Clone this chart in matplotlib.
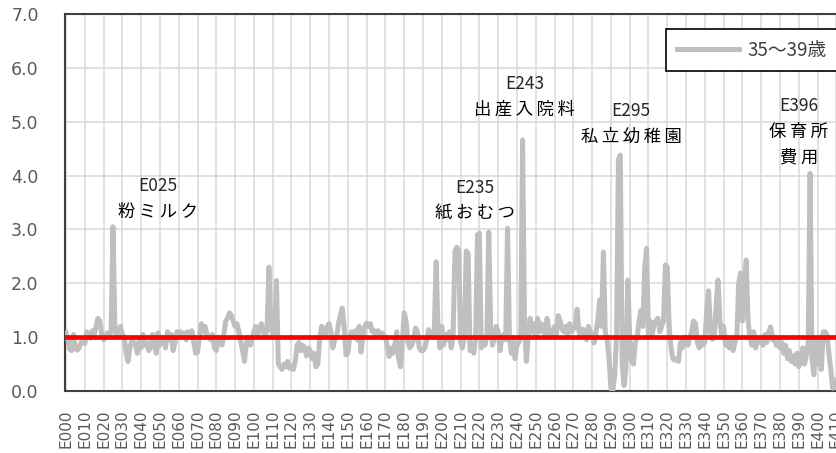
import matplotlib
matplotlib.use("Agg")
import matplotlib.pyplot as plt

plt.rcParams['font.family'] = ['Noto Sans CJK JP', 'DejaVu Sans']

# price ratio for the 35-39 age group, items E000 .. E410
ratio_35_39 = [
    1.08, 0.95, 0.78, 0.75, 1.05, 0.78, 0.76, 0.80, 0.90, 0.95,
    0.88, 1.10, 1.05, 0.98, 1.12, 1.05, 1.20, 1.35, 1.30, 1.05,
    0.95, 1.00, 1.08, 1.00, 1.10, 3.05, 1.20, 1.00, 1.12, 1.20,
    1.05, 1.00, 0.70, 0.55, 0.80, 0.95, 0.90, 0.85, 0.70, 0.95,
    0.80, 1.05, 0.85, 0.90, 0.75, 0.80, 1.05, 0.95, 0.70, 1.08,
    0.85, 0.95, 1.00, 0.80, 1.10, 0.95, 1.05, 0.75, 0.90, 1.10,
    1.05, 1.10, 1.00, 1.08, 0.95, 1.10, 1.05, 1.12, 0.90, 0.70,
    0.72, 1.00, 1.25, 1.10, 1.20, 1.05, 1.00, 0.95, 1.05, 0.80,
    0.75, 1.00, 0.95, 0.85, 1.05, 1.30, 1.35, 1.45, 1.40, 1.30,
    1.20, 1.25, 1.10, 0.90, 0.75, 0.55, 0.90, 1.00, 0.85, 0.95,
    1.10, 1.20, 1.05, 1.15, 1.25, 1.10, 1.00, 1.15, 2.30, 1.20,
    1.05, 1.00, 2.05, 0.50, 0.45, 0.40, 0.50, 0.45, 0.55, 0.42,
    0.45, 0.40, 0.55, 0.85, 0.90, 0.75, 0.85, 0.80, 0.65, 0.80,
    0.75, 0.60, 0.70, 0.45, 0.50, 0.95, 1.20, 1.10, 1.05, 1.20,
    1.25, 1.10, 0.80, 0.95, 1.00, 1.25, 1.40, 1.54, 1.20, 0.67,
    0.70, 1.00, 1.10, 1.05, 1.12, 0.95, 1.20, 0.72, 1.00, 1.20,
    1.26, 1.20, 1.25, 1.10, 1.12, 1.05, 1.12, 1.00, 1.08, 1.05,
    1.00, 0.82, 0.64, 0.80, 0.70, 0.85, 1.10, 0.60, 0.45, 0.90,
    1.45, 1.30, 0.90, 0.80, 0.85, 0.95, 1.17, 1.10, 0.80, 0.75,
    0.75, 0.80, 0.95, 1.14, 1.05, 1.00, 1.10, 2.40, 1.15, 0.80,
    1.20, 0.85, 1.05, 0.95, 1.10, 0.80, 1.00, 2.60, 2.67, 2.62,
    0.90, 0.80, 1.00, 2.60, 2.55, 0.75, 0.85, 0.70, 1.00, 2.90,
    2.93, 0.80, 1.00, 0.85, 1.05, 2.95, 1.20, 0.85, 1.00, 1.20,
    1.10, 0.75, 1.00, 1.05, 0.95, 3.02, 1.00, 0.70, 0.95, 0.60,
    0.85, 0.90, 1.00, 4.66, 1.30, 0.55, 1.00, 1.35, 1.10, 1.25,
    1.00, 1.35, 1.10, 1.25, 1.20, 1.05, 1.35, 1.15, 1.00, 1.10,
    1.20, 1.05, 1.40, 1.30, 1.15, 1.10, 1.20, 1.05, 1.25, 1.10,
    1.15, 1.20, 1.52, 1.10, 1.00, 1.15, 1.05, 0.95, 1.20, 1.10,
    1.05, 0.89, 1.10, 1.30, 1.69, 1.20, 2.58, 1.10, 0.95, 0.60,
    0.05, 0.00, 0.30, 1.00, 4.30, 4.38, 0.50, 0.10, 0.40, 2.06,
    1.00, 0.55, 0.50, 0.90, 1.00, 1.30, 1.50, 1.20, 2.30, 2.65,
    1.00, 1.30, 1.05, 1.25, 1.30, 1.35, 1.10, 1.20, 1.30, 2.34,
    2.30, 1.20, 0.80, 0.60, 0.57, 0.60, 0.55, 0.90, 0.80, 1.00,
    0.95, 0.85, 1.00, 1.10, 1.30, 1.25, 0.90, 0.80, 0.95, 0.85,
    0.90, 1.50, 1.86, 1.10, 0.96, 1.00, 1.60, 2.06, 1.30, 1.00,
    1.20, 0.85, 1.00, 0.80, 0.95, 0.75, 0.90, 1.00, 2.00, 2.19,
    1.30, 1.90, 2.43, 1.30, 1.00, 0.85, 1.10, 0.80, 0.95, 0.90,
    1.00, 0.85, 1.05, 0.90, 1.10, 1.19, 0.95, 1.00, 0.85, 0.95,
    0.80, 0.90, 0.70, 0.85, 0.60, 0.75, 0.55, 0.65, 0.50, 0.70,
    0.45, 0.60, 0.80, 0.50, 0.65, 0.90, 4.04, 0.60, 0.30, 0.90,
    0.50, 1.00, 0.40, 1.10, 1.10, 1.05, 0.70, 0.40, 0.05, 0.10,
    0.20,
]
item_codes = [f"E{i:03d}" for i in range(len(ratio_35_39))]
series_label = "35～39歳"
baseline = 1.0
y_ticks = [0, 1, 2, 3, 4, 5, 6, 7]

# highlighted items: code and name lines
note_codes = ["E025", "E235", "E243", "E295", "E396"]
note_names = [["粉ミルク"], ["紙おむつ"], ["出産入院料"], ["私立幼稚園"], ["保育所", "費用"]]
note_x = [49, 217.7, 244, 300.7, 390]
note_y = [3.81, 3.77, 5.70, 5.20, 5.29]
line_pitch = 0.48

W, H = 836, 453
fig = plt.figure(figsize=(W / 100, H / 100), dpi=100)
px_per_cat = 1.879
x_left, x_right = -0.5, 410.5
ax_left_px = 66 + x_left * px_per_cat
ax_right_px = 66 + x_right * px_per_cat
ax = fig.add_axes([ax_left_px / W, 62 / H, (ax_right_px - ax_left_px) / W, 377 / H])

xs = list(range(len(ratio_35_39)))
ax.plot(xs, ratio_35_39, color='#BFBFBF', lw=3.6, solid_joinstyle='round',
        label=series_label, zorder=3)
ax.axhline(baseline, color='#FF0000', lw=3.4, zorder=4)

ax.set_xlim(x_left, x_right)
ax.set_ylim(0, 7)
ax.set_yticks(y_ticks)
ax.set_yticklabels([f"{v:.1f}" for v in y_ticks], fontsize=12.5, color='#595959',
                   family=['DejaVu Sans'])
ax.set_xticks(xs[::10])
ax.set_xticklabels(item_codes[::10], rotation=90, fontsize=11, color='#595959',
                   family=['DejaVu Sans'])
ax.tick_params(length=0)
ax.tick_params(axis='y', pad=19)
ax.tick_params(axis='x', pad=13)

ax.grid(True, color='#D9D9D9', lw=1.1, zorder=0)
ax.set_axisbelow(True)
for side in ('left', 'top', 'bottom'):
    ax.spines[side].set_color('#404040')
    ax.spines[side].set_linewidth(1.5)
ax.spines['right'].set_visible(False)

for code, names, x, y in zip(note_codes, note_names, note_x, note_y):
    ax.text(x, y, code, ha='center', va='center', fontsize=12.5,
            color='#262626', zorder=5)
    for k, name in enumerate(names, start=1):
        ax.text(x, y - k * line_pitch, '\u2009'.join(name), ha='center',
                va='center', fontsize=12.5, color='#000000', zorder=5)

leg = fig.legend(loc='upper left', bbox_to_anchor=(657 / W, 1 - 20 / H),
                 fontsize=13.5, frameon=True, fancybox=False, framealpha=1,
                 edgecolor='#000000', handlelength=3.3, handletextpad=0.5,
                 borderpad=0.55, labelcolor='#404040')
leg.get_frame().set_linewidth(1.2)

fig.savefig('out.png', dpi=100)
